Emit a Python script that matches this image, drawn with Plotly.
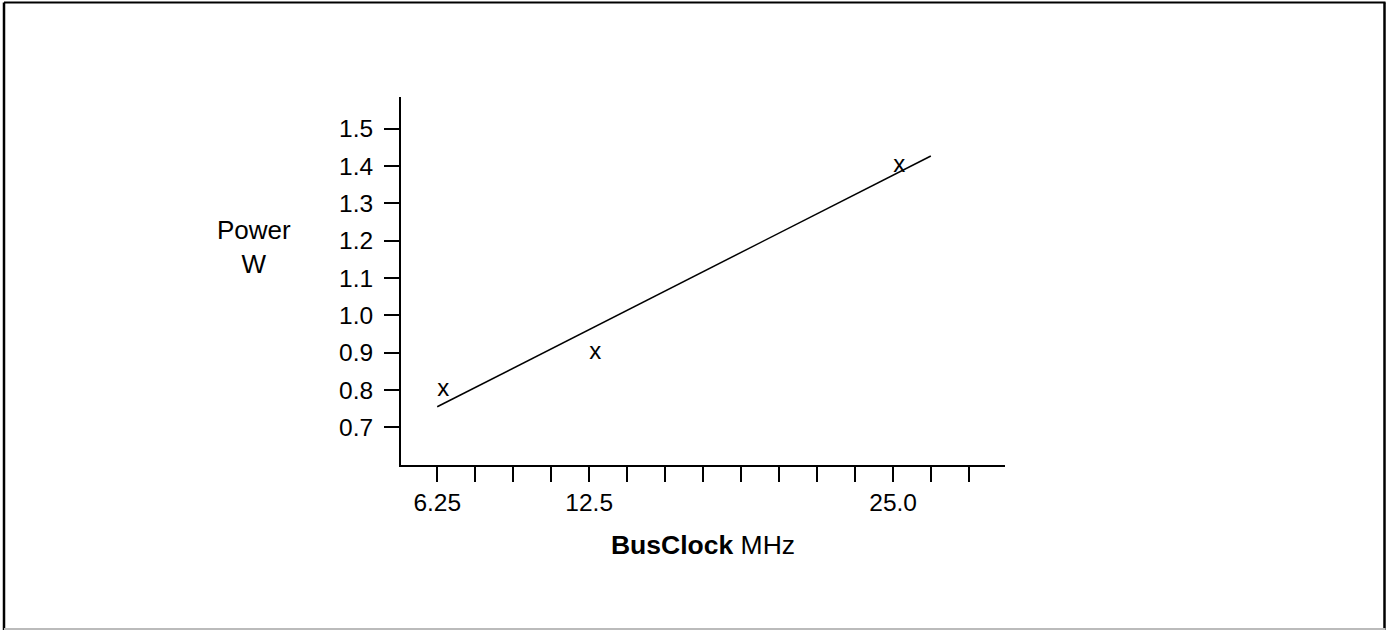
import plotly.graph_objects as go

# ---- data ----
bus_clock_mhz = [6.25, 12.5, 25.0]
power_w = [0.8, 0.9, 1.4]
fit_x = [6.25, 26.55]
fit_y = [0.755, 1.427]
x_tick_vals = [6.25 + 1.5625 * k for k in range(15)]
x_tick_labels = {6.25: "6.25", 12.5: "12.5", 25.0: "25.0"}
y_tick_vals = [0.7, 0.8, 0.9, 1.0, 1.1, 1.2, 1.3, 1.4, 1.5]
y_tick_labels = ["0.7", "0.8", "0.9", "1.0", "1.1", "1.2", "1.3", "1.4", "1.5"]

W, H = 1392, 630
L, R, T, B = 401, 1005, 97, 465  # plot area in pixels
FONT = "Liberation Sans, Arial, sans-serif"


def px(xp):
    return (xp - L) / (R - L)


def py(yp):
    return (B - yp) / (B - T)


fig = go.Figure()
fig.add_trace(go.Scatter(x=fit_x, y=fit_y, mode="lines",
                         line=dict(color="black", width=1.5),
                         hoverinfo="skip", showlegend=False))
fig.add_trace(go.Scatter(x=bus_clock_mhz, y=power_w, mode="text",
                         text=["x"] * len(bus_clock_mhz),
                         textposition="middle right",
                         textfont=dict(family=FONT, size=24, color="black"),
                         showlegend=False))

tick_text = []
for v in x_tick_vals:
    lab = ""
    for k, s in x_tick_labels.items():
        if abs(v - k) < 1e-9:
            lab = s
    tick_text.append(lab)

fig.update_layout(
    width=W, height=H,
    margin=dict(l=L, r=W - R, t=T, b=H - B, pad=0),
    paper_bgcolor="white", plot_bgcolor="white",
    font=dict(family=FONT, color="black"),
    xaxis=dict(range=[4.76, 29.6], showgrid=False, zeroline=False,
               showline=True, linecolor="black", linewidth=1.5,
               ticks="outside", ticklen=15, tickwidth=1.5, tickcolor="black",
               tickmode="array", tickvals=x_tick_vals, ticktext=tick_text,
               tickfont=dict(size=24.5, family=FONT),
               title=dict(text="<b>BusClock</b> MHz", font=dict(size=26.5, family=FONT),
                          standoff=20)),
    yaxis=dict(range=[0.599, 1.585], showgrid=False, zeroline=False,
               showline=True, linecolor="black", linewidth=2,
               ticks="outside", ticklen=15, tickwidth=2, tickcolor="black",
               tickmode="array", tickvals=y_tick_vals, ticktext=y_tick_labels,
               ticklabelstandoff=6,
               tickfont=dict(size=24.5, family=FONT)),
    annotations=[dict(text="Power<br>W", xref="paper", yref="paper",
                      x=px(254), y=py(247), xanchor="center", yanchor="middle",
                      showarrow=False, font=dict(size=26, family=FONT, color="black"))],
    shapes=[
        dict(type="line", xref="paper", yref="paper", x0=px(4), x1=px(1385.5), y0=py(2.5), y1=py(2.5),
             line=dict(color="black", width=2)),
        dict(type="line", xref="paper", yref="paper", x0=px(4), x1=px(4), y0=py(2.5), y1=py(640),
             line=dict(color="black", width=2.5)),
        dict(type="line", xref="paper", yref="paper", x0=px(1384.5), x1=px(1384.5), y0=py(2.5), y1=py(640),
             line=dict(color="black", width=2.5)),
        dict(type="line", xref="paper", yref="paper", x0=px(4), x1=px(1385.5), y0=py(629), y1=py(629),
             line=dict(color="#bbbbbb", width=2)),
    ],
)

fig.write_html("out.html",
               config={"displayModeBar": False},
               post_script="document.body.style.margin='0';document.body.style.overflow='hidden';")
